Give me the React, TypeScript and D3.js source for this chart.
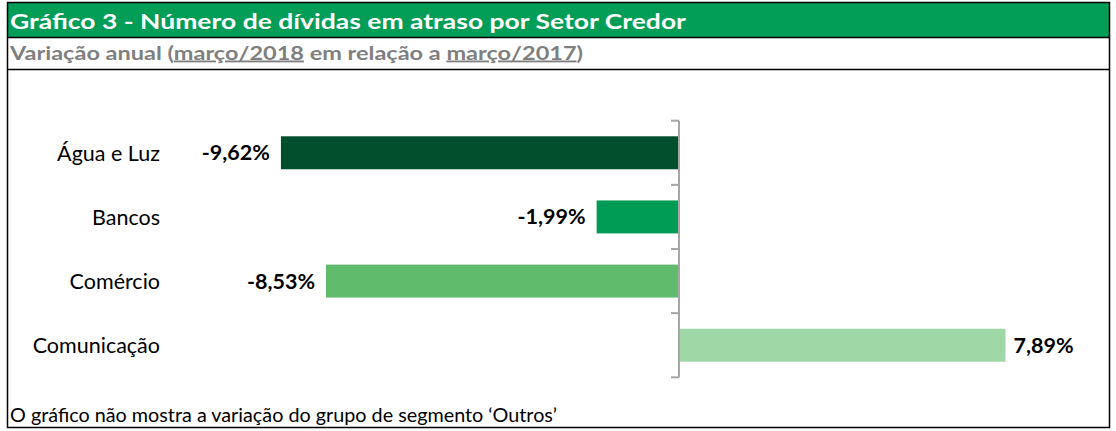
import React from "react";
import * as d3 from "d3";

const categories = ["Água e Luz", "Bancos", "Comércio", "Comunicação"];
const values = [-9.62, -1.99, -8.53, 7.89];
const barColors = ["#024F2D", "#009B55", "#61BB6D", "#A0D7A6"];
const titleText = "Gráfico 3 - Número de dívidas em atraso por Setor Credor";
const subtitleParts = [
  { t: "Variação anual (", u: false },
  { t: "março/2018", u: true },
  { t: " em relação a ", u: false },
  { t: "março/2017", u: true },
  { t: ")", u: false },
];
const footnote = "O gráfico não mostra a variação do grupo de segmento ‘Outros’";

const W = 1116;
const H = 431;
const FONT = "Lato, 'Open Sans', sans-serif";

export default function App() {
  const x = d3.scaleLinear().domain([-10, 10]).range([265.2, 1092.8]);
  const y = d3.scaleBand<string>().domain(categories).range([120.7, 377.3]).paddingInner(0.486).paddingOuter(0.243);
  const bandStep = y.step();
  const tickYs = d3.range(categories.length + 1).map((i) => 120.7 + i * bandStep);
  const fmt = (v: number) => d3.format(".2f")(v).replace(".", ",").replace("−", "-") + "%";

  const frameL = 7.5, frameR = 1109.5, frameT = 2.5, frameB = 427.5;

  return (
    <svg width={W} height={H} style={{ position: "absolute", left: 0, top: 0 }} fontFamily={FONT}>
      <rect x={0} y={0} width={W} height={H} fill="#fff" />
      {/* title band */}
      <rect x={frameL} y={frameT} width={frameR - frameL} height={37 - frameT} fill="#029D57" />
      <text x={10} y={29} fill="#fff" fontWeight={700} fontSize={21} textLength={676} lengthAdjust="spacingAndGlyphs">{titleText}</text>
      <text x={10} y={59.5} fill="#7F7F7F" fontWeight={700} fontSize={18.5} textLength={573} lengthAdjust="spacingAndGlyphs">
        {subtitleParts.map((p, i) => (
          <tspan key={i} textDecoration={p.u ? "underline" : undefined}>{p.t}</tspan>
        ))}
      </text>
      {/* frame lines */}
      <g stroke="#000" strokeWidth={1.5} fill="none">
        <rect x={frameL} y={frameT} width={frameR - frameL} height={frameB - frameT} />
        <line x1={frameL} x2={frameR} y1={37.5} y2={37.5} />
        <line x1={frameL} x2={frameR} y1={69.5} y2={69.5} />
      </g>
      {/* bars */}
      {categories.map((c, i) => {
        const v = values[i];
        const x0 = x(Math.min(0, v));
        const x1 = x(Math.max(0, v));
        const yc = (y(c) as number) + y.bandwidth() / 2;
        return (
          <g key={c}>
            <rect x={x0} y={y(c)} width={x1 - x0} height={y.bandwidth()} fill={barColors[i]} />
            <text
              x={v < 0 ? x0 - 11 : x1 + 8}
              y={yc}
              dy="0.35em"
              textAnchor={v < 0 ? "end" : "start"}
              fontWeight={700}
              fontSize={21.5}
              fill="#000"
            >
              {fmt(v)}
            </text>
            <text x={160} y={yc} dy="0.37em" textAnchor="end" fontSize={21.5} fill="#000">{c}</text>
          </g>
        );
      })}
      {/* axis */}
      <g stroke="#A6A6A6" strokeWidth={2}>
        <line x1={x(0)} x2={x(0)} y1={tickYs[0]} y2={tickYs[tickYs.length - 1]} />
        {tickYs.map((ty, i) => (
          <line key={i} x1={x(0) - 8} x2={x(0)} y1={ty} y2={ty} />
        ))}
      </g>
      <text x={10} y={422} fontSize={18.5} fill="#000" textLength={547} lengthAdjust="spacingAndGlyphs">{footnote}</text>
    </svg>
  );
}
